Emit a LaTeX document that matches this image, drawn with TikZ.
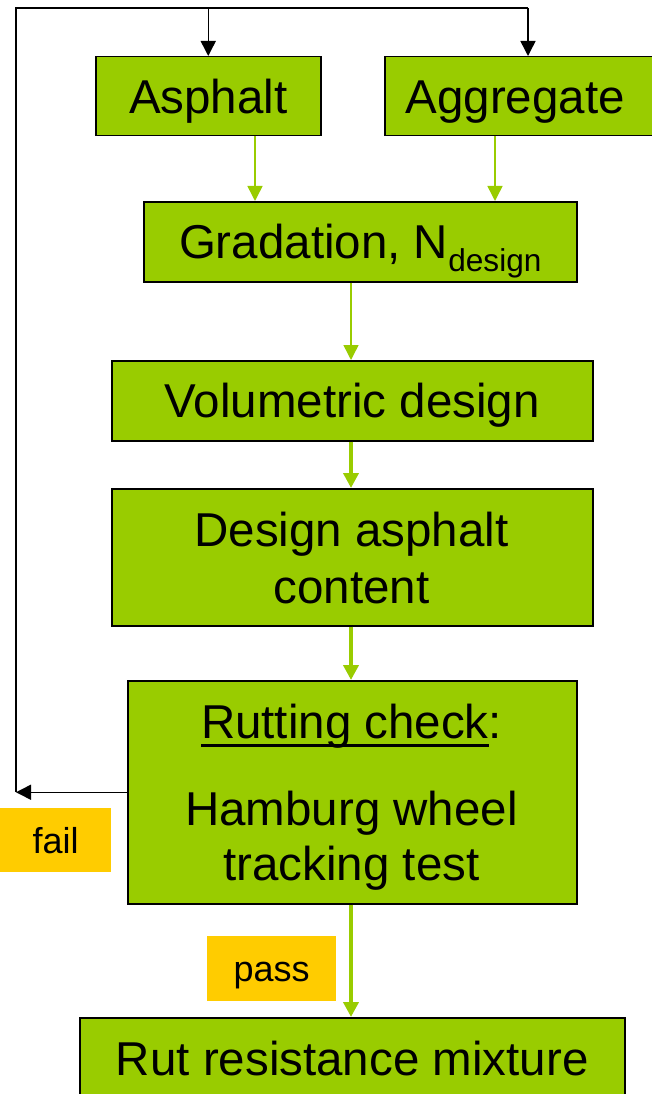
\documentclass[tikz,border=0pt]{standalone}
\usepackage{fontspec}
\setmainfont{Liberation Sans}
\usetikzlibrary{arrows.meta,calc}
\definecolor{boxgreen}{HTML}{99CC00}
\definecolor{tagorange}{HTML}{FFCC00}
% underline drawn as a rule just below the baseline
\newcommand\ruleunder[1]{\setbox0\hbox{#1}\rlap{\rule[-9pt]{\wd0}{3pt}}\box0}
\begin{document}
\begin{tikzpicture}[x=1pt,y=-1pt,
  stage/.style={draw=black, line width=1.5pt, fill=boxgreen, inner sep=0pt,
    font=\fontsize{47.5}{56}\selectfont, text height=34pt, text depth=0pt,
    anchor=north west},
  tag/.style={fill=tagorange, inner sep=0pt, font=\fontsize{36}{40}\selectfont,
    text height=26pt, text depth=0pt, anchor=north west},
  txt/.style={font=\fontsize{47.5}{56}\selectfont, inner sep=0pt, anchor=base},
  link/.style={draw=black, line width=1.5pt},
  tri/.style={-{Triangle[width=15pt,length=15pt]}},
  thinflow/.style={draw=boxgreen, line width=1.5pt, tri},
  thickflow/.style={draw=boxgreen, line width=4pt, tri}]
\useasboundingbox (0,0) rectangle (652,1094);

% process boxes
\node[stage, minimum width=225pt, minimum height=79pt] (asp) at (95,56) {Asphalt};
\node[stage, minimum width=276pt, minimum height=79pt] (agg) at (384,56) {\hspace*{-15pt}Aggregate};
\node[stage, minimum width=433pt, minimum height=80pt] (grad) at (143,201)
  {Gradation, N\raisebox{-13pt}{\fontsize{31.6}{34}\selectfont design}};
\node[stage, minimum width=481pt, minimum height=80pt] (vol) at (111,360) {Volumetric design};
\node[stage, minimum width=481pt, minimum height=137pt] (dac) at (111,488) {};
\node[txt] (dac1) at (351.5,546) {Design asphalt};
\node[txt] (dac2) at (351.5,603) {content};
\node[stage, minimum width=449pt, minimum height=223pt] (rut) at (127,680) {};
\node[txt] (rut1) at (351.5,738) {\ruleunder{Rutting check}:};
\node[txt] (rut2) at (351.5,825) {Hamburg wheel};
\node[txt] (rut3) at (351.5,880) {tracking test};
\node[stage, minimum width=545pt, minimum height=82pt] (mix) at (79,1017) {Rut resistance mixture};

% outcome tags
\node[tag, minimum width=111pt, minimum height=64pt] (fail) at (0,808) {fail};
\node[tag, minimum width=129pt, minimum height=65pt] (pass) at (207,936) {pass};

% forward flow
\coordinate (c1) at (255,0);
\coordinate (c2) at (495,0);
\coordinate (c3) at (351,0);
\draw[thinflow] (asp.south -| c1) -- (grad.north -| c1);
\draw[thinflow] (agg.south -| c2) -- (grad.north -| c2);
\draw[thinflow] (grad.south -| c3) -- (vol.north -| c3);
\draw[thickflow] (vol.south -| c3) -- (dac.north -| c3);
\draw[thickflow] (dac.south -| c3) -- (rut.north -| c3);
\draw[thickflow] (rut.south -| c3) -- (mix.north -| c3);

% feedback loop on failure
\coordinate (lt) at (16,8);
\coordinate (rt) at (528,8);
\draw[link, tri] (rut.west) -- (rut.west -| lt);
\draw[link] (rut.west -| lt) -- (lt) -- (rt);
\draw[link, tri] (lt -| asp.north) -- (asp.north);
\draw[link, tri] (rt) -- (rt |- agg.north);
\end{tikzpicture}
\end{document}
